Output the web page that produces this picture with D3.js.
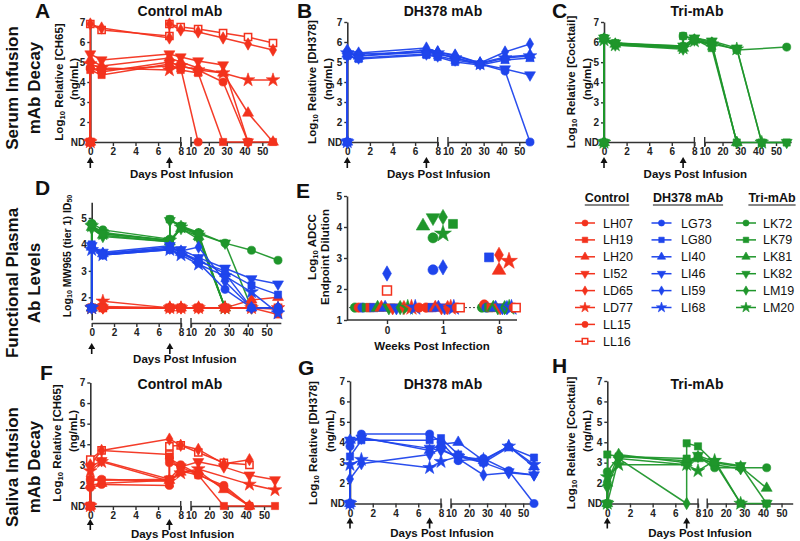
<!DOCTYPE html>
<html><head><meta charset="utf-8">
<script src="https://cdn.jsdelivr.net/npm/d3@7"></script>
<style>
body{margin:0;background:#fff}
svg{font-family:"Liberation Sans",Arial,sans-serif;font-weight:bold}
</style></head><body>
<svg id="c" width="800" height="541"></svg>
<script>
const ND = 1;
const RED = "#f3321d", BLUE = "#1f45ec", GREEN = "#1f962b";
const controlIds = ["LH07","LH19","LH20","LI52","LD65","LD77","LL15","LL16"];
const dh378Ids = ["LG73","LG80","LI40","LI46","LI59","LI68"];
const triIds = ["LK72","LK79","LK81","LK82","LM19","LM20"];
const controlShapes = ["circle","square","triangle","triDown","diamond","star","circle","openSquare"];
const mabShapes = ["circle","square","triangle","triDown","diamond","star"];
const xTicks1 = [0,2,4,6,8];
const xTicks2 = [10,20,30,40,50];
const infusionDays = [0,7];

// Panel A: serum control mAb [day, log10 value], ND = 1
const serumControl = [
 [[0,1],[0,4.7],[1,4.5],[7,5.0],[8,4.8],[14,4.6],[28,4.0],[42,1]],
 [[0,1],[0,4.6],[1,4.35],[7,4.9],[8,4.6],[14,4.45],[28,1],[42,1],[56,1]],
 [[0,1],[0,5.1],[1,4.8],[7,5.2],[8,5.0],[14,4.7],[28,4.45],[42,2.45],[56,1]],
 [[0,1],[0,5.4],[1,5.1],[7,5.4],[8,5.25],[14,5.05],[28,4.85],[42,1]],
 [[0,1],[0,6.9],[1,6.7],[7,6.2],[7,6.9],[8,6.6],[14,6.5],[28,6.2],[42,5.9],[56,5.6]],
 [[0,1],[0,4.9],[1,4.7],[7,4.6],[8,4.8],[14,4.6],[28,4.45],[42,4.1],[56,4.1]],
 [[0,1],[0,4.7],[1,4.6],[7,4.8],[8,4.7],[14,1]],
 [[0,1],[0,6.9],[1,6.6],[7,6.3],[7,6.9],[8,6.75],[14,6.65],[28,6.45],[42,6.25],[56,5.95]]
];
// Panel B: serum DH378
const serumDH378 = [
 [[0,1],[0,5.5],[1,5.4],[7,5.5],[8,5.4],[14,5.2],[28,4.9],[42,4.55],[56,1]],
 [[0,1],[0,5.3],[1,5.15],[7,5.35],[8,5.25],[14,5.0],[28,4.85],[42,5.1],[56,5.2]],
 [[0,1],[0,5.4],[1,5.3],[7,5.6],[8,5.5],[14,5.3],[28,4.95],[42,5.25],[56,5.35]],
 [[0,1],[0,5.3],[1,5.2],[7,5.4],[8,5.3],[14,5.1],[28,4.9],[42,4.65],[56,4.35]],
 [[0,1],[0,5.6],[1,5.45],[7,5.7],[8,5.5],[14,5.35],[28,4.95],[42,5.5],[56,5.9]],
 [[0,1],[0,5.45],[1,5.3],[7,5.5],[8,5.45],[14,5.2],[28,4.9],[42,5.2],[56,5.3]]
];
// Panel C: serum Tri-mAb
const serumTri = [
 [[0,1],[0,6.2],[1,5.9],[7,5.8],[7,6.3],[8,6.15],[14,6.0],[28,5.6],[56,5.75]],
 [[0,1],[0,6.2],[1,5.95],[7,5.75],[7,6.3],[8,6.15],[14,5.7],[28,1],[42,1],[56,1]],
 [[0,1],[0,6.15],[1,5.9],[7,5.7],[8,6.1],[14,5.95],[28,1]],
 [[0,1],[0,6.2],[1,5.95],[7,5.8],[8,6.2],[14,6.05],[28,5.7],[42,1],[56,1]],
 [[0,1],[0,6.15],[1,5.85],[7,5.65],[8,6.1],[14,5.85],[28,1]],
 [[0,1],[0,6.1],[1,5.85],[7,5.7],[8,6.05],[14,5.9],[28,5.65],[42,1]]
];
// Panel D: plasma MW965 ID50 (log10)
const plasmaControl = [
 [[0,1.6],[1,1.6],[7,1.6],[8,1.6],[14,1.6],[28,1.6],[42,1.6],[56,1.6]],
 [[0,1.6],[1,1.6],[7,1.6],[8,1.6],[14,1.6],[28,1.6],[42,1.6],[56,1.35]],
 [[0,1.6],[1,1.65],[7,1.6],[8,1.6],[14,1.6],[28,1.6],[42,1.9],[56,2.0]],
 [[0,1.6],[1,1.6],[7,1.6],[8,1.6],[14,1.6],[28,1.6],[42,1.6],[56,1.55]],
 [[0,1.6],[1,1.6],[7,1.6],[8,1.6],[14,1.6],[28,1.6],[42,1.6],[56,1.6]],
 [[0,1.6],[1,1.85],[7,1.6],[8,1.6],[14,1.6],[28,1.6],[42,1.6],[56,1.6]],
 [[0,1.6],[1,1.6],[7,1.6],[8,1.6],[14,1.6],[28,1.6],[42,1.6],[56,1.6]],
 [[0,1.6],[1,1.6],[7,1.6],[8,1.6],[14,1.6],[28,1.6],[42,1.6],[56,1.6]]
];
const plasmaDH378 = [
 [[0,1.6],[0,3.9],[1,3.6],[7,3.85],[8,3.75],[14,3.3],[28,2.3],[42,1.6],[56,1.6]],
 [[0,1.6],[0,4.0],[1,3.6],[7,3.8],[8,3.65],[14,3.35],[28,3.0],[42,2.45],[56,2.1]],
 [[0,1.6],[0,3.9],[1,3.65],[7,3.9],[8,3.7],[14,3.4],[28,2.9],[42,1.6],[56,1.6]],
 [[0,1.6],[0,3.95],[1,3.7],[7,3.95],[8,3.8],[14,3.5],[28,3.1],[42,2.7],[56,2.5]],
 [[0,1.6],[0,3.85],[1,3.65],[7,3.85],[8,3.75],[14,3.9],[28,2.6],[42,1.6],[56,1.6]],
 [[0,1.6],[0,3.8],[1,3.6],[7,3.8],[8,3.6],[14,3.25],[28,2.8],[42,2.2],[56,1.4]]
];
const plasmaTri = [
 [[0,1.6],[0,4.8],[1,4.55],[7,4.2],[7,4.95],[8,4.7],[14,4.45],[28,4.05],[42,3.78],[56,3.4]],
 [[0,1.6],[0,4.75],[1,4.4],[7,4.15],[7,4.95],[8,4.65],[14,4.4],[28,1.6]],
 [[0,1.6],[0,4.65],[1,4.35],[7,4.1],[8,4.6],[14,4.3],[28,1.6]],
 [[0,1.6],[0,4.7],[1,4.45],[7,4.15],[7,4.9],[8,4.7],[14,4.4],[28,4.05],[42,1.6]],
 [[0,1.6],[0,4.6],[1,4.3],[7,4.1],[8,4.6],[14,4.2],[28,1.6]],
 [[0,1.6],[0,4.7],[1,4.4],[7,4.15],[8,4.65],[14,4.35],[28,1.6]]
];
// Panel E: ADCC endpoint (log10) at weeks 0, 1, 8
const adccWeeks = ["0","1","8"];
const adccLimit = 1.4;
const adccControl = [[1.4,1.4,1.5],[1.4,1.4,1.4],[1.4,1.4,2.6],[1.4,1.4,1.4],[1.4,1.4,3.1],[1.4,1.4,2.9],[1.4,1.4,1.4],[1.95,1.4,1.4]];
const adccDH378 = [[1.4,2.62,1.4],[1.4,1.4,3.02],[1.4,1.4,1.4],[1.4,1.4,1.4],[2.5,2.7,1.4],[1.4,1.4,1.4]];
const adccTri = [[1.4,3.65,1.4],[1.4,4.1,1.4],[1.4,4.03,1.4],[1.4,4.3,1.4],[1.4,4.32,1.4],[1.4,3.78,1.4]];
// Panel F: saliva control
const salivaControl = [
 [[0,1],[0,2.3],[1,2.3],[7,2.2],[7,3.1],[8,2.9],[14,2.5],[28,2.0],[42,1]],
 [[0,1],[0,2.25],[1,2.25],[7,2.3],[7,3.4],[8,2.7],[14,2.5],[28,1],[42,1],[56,1]],
 [[0,1],[0,2.0],[1,2.1],[7,2.25],[8,2.65],[14,2.7],[28,1.8],[42,1]],
 [[0,1],[0,2.9],[1,3.2],[7,2.3],[8,2.9],[14,3.15],[28,2.9],[42,2.5],[56,2.27]],
 [[0,1],[0,3.0],[1,3.7],[7,4.25],[8,3.95],[14,3.75],[28,3.05],[42,3.25]],
 [[0,1],[0,2.7],[1,3.15],[7,2.2],[8,2.6],[14,2.8],[42,2.05],[56,1.78]],
 [[0,1],[0,1.9],[1,2.05],[7,2.0],[7,3.3],[8,3.0],[14,2.55],[28,1.9],[42,1]],
 [[0,1],[0,3.25],[1,3.7],[7,3.5],[7,3.9],[8,3.95],[14,3.6],[28,3.1],[42,3.0]]
];
// Panel G: saliva DH378
const salivaDH378 = [
 [[0,1],[0,3.8],[1,4.4],[7,4.4],[8,4.0],[14,3.1],[28,3.2],[42,2.6],[56,1]],
 [[0,1],[0,3.3],[1,4.1],[7,4.1],[8,4.2],[14,3.4],[28,3.0],[42,3.75],[56,3.25]],
 [[0,1],[0,4.1],[1,4.25],[7,3.6],[8,3.9],[14,4.0],[28,3.1],[42,3.8],[56,2.8]],
 [[0,1],[0,4.1],[1,4.2],[7,3.7],[8,3.6],[14,3.3],[28,3.0],[42,2.55],[56,2.4]],
 [[0,1],[0,2.2],[1,2.95],[7,3.4],[8,3.7],[14,3.2],[28,2.4],[42,2.5],[56,2.4]],
 [[0,1],[0,2.9],[1,3.15],[7,2.75],[8,3.05],[14,3.3],[28,3.15],[42,3.8],[56,2.9]]
];
// Panel H: saliva Tri-mAb
const salivaTri = [
 [[0,1],[0,2.55],[1,3.3],[7,3.1],[8,3.3],[14,2.75],[28,2.75],[42,2.75]],
 [[0,1],[0,3.4],[1,3.3],[7,3.2],[7,3.95],[8,3.8],[14,3.0],[28,1],[42,1]],
 [[0,1],[0,2.0],[1,3.4],[7,3.0],[8,3.2],[14,3.0],[28,2.8],[42,1.75]],
 [[0,1],[1,3.2],[7,2.9],[8,3.35],[14,3.05],[28,2.85],[42,1]],
 [[0,1],[0,1.8],[1,3.2],[7,1],[7,3.0],[8,3.3],[14,2.9],[28,2.7]],
 [[0,1],[0,2.3],[1,2.9],[7,2.9],[8,2.6],[14,3.1],[28,1]]
];

const svg = d3.select("#c");
const symTypes = {circle:d3.symbolCircle, square:d3.symbolSquare, openSquare:d3.symbolSquare,
  triangle:d3.symbolTriangle, triDown:d3.symbolTriangle, diamond:d3.symbolDiamond, star:d3.symbolStar};
function marker(g, shape, x, y, size, color){
  const s = shape==="star" ? size*1.1 : (shape==="diamond"? size*0.85 : size);
  g.append("path").attr("d", d3.symbol().type(symTypes[shape]).size(s)())
   .attr("transform", `translate(${x},${y})` + (shape==="triDown" ? " rotate(180)" : ""))
   .attr("fill", shape==="openSquare" ? "#fff" : color)
   .attr("stroke", color).attr("stroke-width", shape==="openSquare" ? 1.5 : 0.6);
}
function styleAxis(sel){
  sel.selectAll("path.domain").attr("stroke","#333").attr("stroke-width",1.6);
  sel.selectAll(".tick line").attr("stroke","#333").attr("stroke-width",1.4);
  sel.selectAll(".tick text").attr("fill","#222").attr("font-size",10).attr("font-weight","bold")
    .attr("font-family","Liberation Sans, Arial, sans-serif");
}
function rotText(x, y, size, parts){
  const t = svg.append("text").attr("transform",`translate(${x},${y}) rotate(-90)`)
    .attr("text-anchor","middle").attr("dominant-baseline","central").attr("font-size",size).attr("fill","#111");
  parts.forEach(p=>{
    const ts = t.append("tspan").text(p.t);
    if(p.sub){ ts.attr("font-size",size*0.68).attr("dy",size*0.3); }
    else if(p.after){ ts.attr("dy",-size*0.3); }
  });
}
function text(x,y,str,size,anchor){
  return svg.append("text").attr("x",x).attr("y",y).attr("font-size",size)
    .attr("text-anchor",anchor||"middle").attr("fill","#111").text(str);
}

function timePanel(o){
  const x = d3.scaleLinear().domain([0,8,10,56]).range([o.x0,o.x8,o.x10,o.x56]);
  const y = d3.scaleLinear().domain(o.yDom).range(o.yRng);
  const g = svg.append("g");
  const ya = g.append("g").attr("transform",`translate(${o.x0},0)`)
    .call(d3.axisLeft(y.copy().domain(o.yAxisDom).range(o.yAxisDom.map(y)))
      .tickValues(o.yTicks).tickSize(3).tickSizeOuter(0).tickPadding(2)
      .tickFormat(d => (o.nd && d===ND) ? "ND" : d));
  styleAxis(ya);
  const s1 = d3.scaleLinear().domain([0,8]).range([o.x0,o.x8]);
  const s2 = d3.scaleLinear().domain([10,o.endDay]).range([o.x10,x(o.endDay)]);
  [[s1,xTicks1],[s2,xTicks2]].forEach(([s,t])=>{
    const xa = g.append("g").attr("transform",`translate(0,${o.axisY})`)
      .call(d3.axisBottom(s).tickValues(t).tickSize(4).tickSizeOuter(0).tickPadding(2));
    styleAxis(xa);
  });
  [o.x8, o.x10].forEach(bx => g.append("line").attr("x1",bx).attr("x2",bx)
    .attr("y1",o.axisY-5).attr("y2",o.axisY+5).attr("stroke","#333").attr("stroke-width",1.4));
  infusionDays.forEach(d=>{
    const ax = x(d), top = o.axisY+o.arrowOff;
    g.append("path").attr("d",`M${ax},${top} L${ax-3.5},${top+6} L${ax+3.5},${top+6} Z`).attr("fill","#111");
    g.append("line").attr("x1",ax).attr("x2",ax).attr("y1",top+5).attr("y2",top+11)
      .attr("stroke","#111").attr("stroke-width",1.6);
  });
  text((o.x0+o.x56)/2, o.axisY+o.titleOff, "Days Post Infusion", 11.5);
  const line = d3.line().x(d=>x(d[0])).y(d=>y(d[1]));
  o.groups.forEach(gr=>{
    gr.data.forEach(ser=>{
      g.append("path").attr("d",line(ser)).attr("fill","none").attr("stroke",gr.color)
        .attr("stroke-width",1.5).attr("opacity",0.95);
    });
  });
  o.groups.forEach(gr=>{
    // squares drawn last so ND points show filled squares on top
    const order = d3.range(gr.data.length).sort((a,b)=>
      (gr.shapes[a]==="square") - (gr.shapes[b]==="square") || (gr.shapes[b]==="openSquare") - (gr.shapes[a]==="openSquare"));
    order.forEach(i=>{
      gr.data[i].forEach(p=> marker(g, gr.shapes[i], x(p[0]), y(p[1]), 52, gr.color));
    });
  });
}

// Row labels
rotText(12, 88, 17, [{t:"Serum Infusion"}]);
rotText(34, 88, 17, [{t:"mAb Decay"}]);
rotText(12, 283, 17, [{t:"Functional Plasma"}]);
rotText(34, 283, 17, [{t:"Ab Levels"}]);
rotText(12, 467, 17, [{t:"Saliva Infusion"}]);
rotText(34, 467, 17, [{t:"mAb Decay"}]);

// Letters
[["A",35,18],["B",297,18],["C",552,18],["D",35,195],["E",296,198],["F",40,380],["G",298,375],["H",552,373]]
  .forEach(([l,lx,ly]) => text(lx,ly,l,21,"start"));

// Titles
text(180,16,"Control mAb",14); text(443,16,"DH378 mAb",14); text(697,16,"Tri-mAb",14);
text(180,389,"Control mAb",14); text(443,389,"DH378 mAb",14); text(697,389,"Tri-mAb",14);

// Y titles
function yTitle(x1,y1,x2,y2,bracket){
  rotText(x1,y1,11.5,[{t:"Log"},{t:"10",sub:true},{t:" Relative "+bracket,after:true}]);
  rotText(x2,y2,11.5,[{t:"(ng/mL)"}]);
}
yTitle(59,82,74,79,"[CH65]"); yTitle(312,82,328,79,"[DH378]"); yTitle(571,82,587,79,"[Cocktail]");
yTitle(57,443,73,431,"[CH65]"); yTitle(313,443,330,431,"[DH378]"); yTitle(571,443,587,431,"[Cocktail]");
rotText(67,256,10.5,[{t:"Log"},{t:"10",sub:true},{t:" MW965 (tier 1) ID",after:true},{t:"50",sub:true}]);
rotText(312,247,11.5,[{t:"Log"},{t:"10",sub:true},{t:" ADCC",after:true}]);
rotText(325,257,11.5,[{t:"Endpoint Dilution"}]);

const serumY = {yDom:[1,7], yRng:[142,22], yAxisDom:[1,7], yTicks:[1,2,3,4,5,6,7], nd:true, axisY:142,
  endDay:58, arrowOff:15, titleOff:36};
timePanel(Object.assign({}, serumY, {x0:90.3,x8:180.7,x10:191,x56:273,
  groups:[{data:serumControl,shapes:controlShapes,color:RED}]}));
timePanel(Object.assign({}, serumY, {x0:347.3,x8:437.7,x10:448,x56:530,
  groups:[{data:serumDH378,shapes:mabShapes,color:BLUE}]}));
timePanel(Object.assign({}, serumY, {x0:604,x8:694.4,x10:704.7,x56:786.7, yRng:[142.5,22], endDay:58.5,
  groups:[{data:serumTri,shapes:mabShapes,color:GREEN}]}));
timePanel({x0:91.7,x8:181,x10:191,x56:278, yDom:[2,5], yRng:[297.3,218], yAxisDom:[1.15,5.6], yTicks:[2,3,4,5],
  nd:false, axisY:323, endDay:57.5, arrowOff:20, titleOff:40,
  groups:[{data:plasmaTri,shapes:mabShapes,color:GREEN},{data:plasmaControl,shapes:controlShapes,color:RED},
          {data:plasmaDH378,shapes:mabShapes,color:BLUE}]});
timePanel({x0:90.3,x8:180.7,x10:191,x56:275, yDom:[1,7], yRng:[506,382.5], yAxisDom:[1,7], yTicks:[1,2,3,4,5,6,7],
  nd:true, axisY:506, endDay:57.5, arrowOff:13, titleOff:31.5,
  groups:[{data:salivaControl,shapes:controlShapes,color:RED}]});
timePanel({x0:350,x8:441,x10:451,x56:534, yDom:[1,7], yRng:[503.5,381], yAxisDom:[1,7], yTicks:[1,2,3,4,5,6,7],
  nd:true, axisY:503.5, endDay:58, arrowOff:14, titleOff:33.5,
  groups:[{data:salivaDH378,shapes:mabShapes,color:BLUE}]});
timePanel({x0:607.3,x8:698,x10:707.2,x56:792.7, yDom:[1,7], yRng:[503.5,381], yAxisDom:[1,7], yTicks:[1,2,3,4,5,6,7],
  nd:true, axisY:503.5, endDay:56, arrowOff:14, titleOff:33.5,
  groups:[{data:salivaTri,shapes:mabShapes,color:GREEN}]});

// Panel E
(function(){
  const x = d3.scalePoint().domain(adccWeeks).range([387,499]);
  const y = d3.scaleLinear().domain([1,5]).range([320,196]);
  const g = svg.append("g");
  const ya = g.append("g").attr("transform","translate(347,0)")
    .call(d3.axisLeft(y).tickValues([1,2,3,4,5]).tickFormat(d3.format("d")).tickSize(3).tickSizeOuter(0).tickPadding(2));
  styleAxis(ya);
  const xa = g.append("g").attr("transform","translate(0,320)")
    .call(d3.axisBottom(x).tickSize(4).tickSizeOuter(0).tickPadding(3));
  xa.select("path.domain").attr("d","M347,0H517");
  styleAxis(xa);
  g.append("line").attr("x1",349).attr("x2",517).attr("y1",y(adccLimit)).attr("y2",y(adccLimit))
    .attr("stroke","#444").attr("stroke-width",1).attr("stroke-dasharray","2,2");
  text(432,350,"Weeks Post Infection",11.5);
  const pts = [];
  for(let i=0;i<8;i++){
    if(i<6) pts.push({v:adccTri[i],shape:mabShapes[i],color:GREEN});
    pts.push({v:adccControl[i],shape:controlShapes[i],color:RED});
    if(i<6) pts.push({v:adccDH378[i],shape:mabShapes[i],color:BLUE});
  }
  adccWeeks.forEach((w,wi)=>{
    const base = pts.filter(p=>p.v[wi]<=1.5);
    const high = pts.filter(p=>p.v[wi]>1.5).sort((a,b)=>b.v[wi]-a.v[wi]);
    const half = wi===0 ? 32 : 17;
    const bs = d3.scalePoint().domain(d3.range(base.length)).range([-half,half]);
    const placed = [];
    high.forEach(p=>{
      const py = y(p.v[wi]);
      let off = 0;
      for(let k=0;k<20;k++){
        const c = (k%2===0?1:-1)*Math.ceil(k/2)*5;
        if(placed.every(q=>Math.hypot(q.x-c,q.y-py)>=10)){off=c;break;}
      }
      placed.push({x:off,y:py}); p.off = off;
    });
    base.forEach((p,i)=> marker(g,p.shape,x(w)+bs(i),y(p.v[wi]),70,p.color));
    high.forEach(p=> marker(g,p.shape,x(w)+p.off,y(p.v[wi]),80,p.color));
  });
})();

// Legend
(function(){
  const cols = [{ids:controlIds,shapes:controlShapes,color:RED,title:"Control",hx:607,lx:585,tx:603},
                {ids:dh378Ids,shapes:mabShapes,color:BLUE,title:"DH378 mAb",hx:688,lx:661.5,tx:681},
                {ids:triIds,shapes:mabShapes,color:GREEN,title:"Tri-mAb",hx:772,lx:746,tx:763}];
  const g = svg.append("g");
  cols.forEach(c=>{
    const t = text(c.hx,202,c.title,12.5);
    const w = t.node().getComputedTextLength();
    g.append("line").attr("x1",c.hx-w/2).attr("x2",c.hx+w/2).attr("y1",205).attr("y2",205)
      .attr("stroke","#111").attr("stroke-width",1.2);
    c.ids.forEach((id,i)=>{
      const yy = 223 + i*16.9;
      g.append("line").attr("x1",c.lx-10).attr("x2",c.lx+10).attr("y1",yy).attr("y2",yy)
        .attr("stroke",c.color).attr("stroke-width",1.5);
      marker(g,c.shapes[i],c.lx,yy,30,c.color);
      g.append("text").attr("x",c.tx).attr("y",yy+4.5).attr("font-size",12.5).attr("font-weight","normal")
        .attr("fill","#111").text(id);
    });
  });
})();
</script>
</body></html>
